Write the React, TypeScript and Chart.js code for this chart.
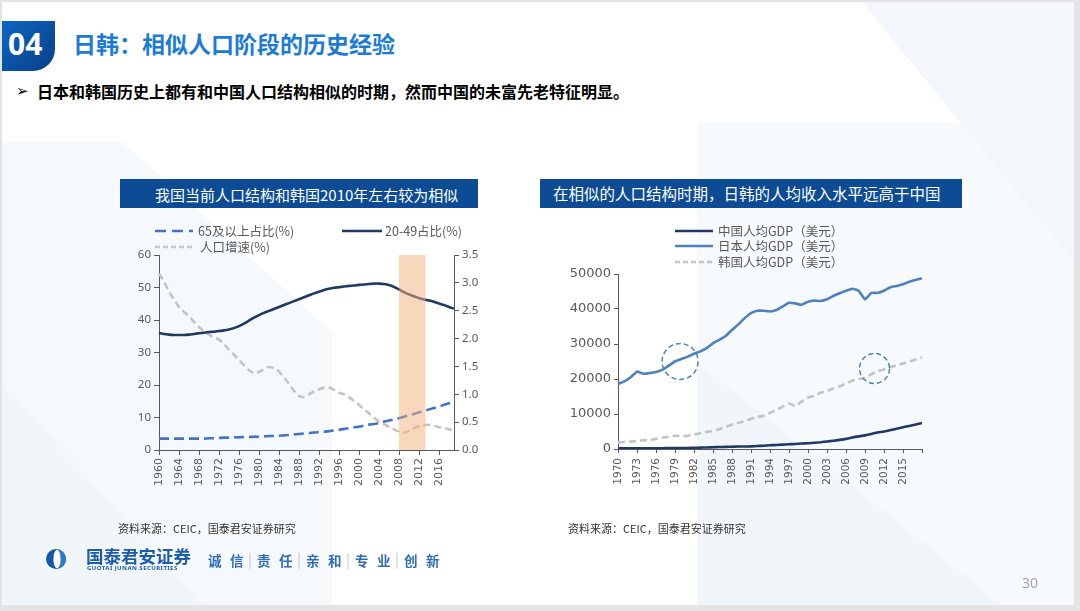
import React, { useEffect, useRef } from 'react';
import { Chart, registerables } from 'chart.js';
Chart.register(...registerables);

// ---------------- Left chart data (Korea population structure) ----------------
const popYears = [
  '1960','1961','1962','1963','1964','1965','1966','1967','1968','1969',
  '1970','1971','1972','1973','1974','1975','1976','1977','1978','1979',
  '1980','1981','1982','1983','1984','1985','1986','1987','1988','1989',
  '1990','1991','1992','1993','1994','1995','1996','1997','1998','1999',
  '2000','2001','2002','2003','2004','2005','2006','2007','2008','2009',
  '2010','2011','2012','2013','2014','2015','2016','2017','2018','2019',
];
const share2049 = [
  36.0,35.7,35.5,35.4,35.4,35.4,35.5,35.7,35.9,36.1,
  36.3,36.4,36.6,36.8,37.1,37.5,38.1,38.9,39.8,40.7,
  41.5,42.2,42.8,43.4,44.0,44.6,45.2,45.8,46.4,47.0,
  47.6,48.2,48.7,49.2,49.6,49.9,50.1,50.3,50.5,50.6,
  50.8,50.9,51.1,51.2,51.2,51.1,50.8,50.2,49.4,48.6,
  47.9,47.3,46.7,46.3,46.0,45.6,45.1,44.6,44.0,43.5,
];
const share65 = [
  3.5,3.5,3.5,3.5,3.5,3.5,3.5,3.5,3.5,3.5,
  3.6,3.6,3.7,3.8,3.8,3.9,3.9,4.0,4.0,4.1,
  4.1,4.2,4.3,4.3,4.4,4.5,4.6,4.8,4.9,5.1,
  5.2,5.4,5.5,5.6,5.8,6.0,6.2,6.5,6.7,7.0,
  7.2,7.5,7.8,8.0,8.3,8.7,9.1,9.4,9.8,10.2,
  10.7,11.1,11.6,12.0,12.5,12.9,13.4,13.9,14.4,14.8,
];
const popGrowth = [
  3.17,3.02,2.85,2.70,2.57,2.48,2.40,2.30,2.21,2.13,
  2.07,2.02,1.98,1.90,1.80,1.71,1.62,1.52,1.43,1.38,
  1.40,1.45,1.49,1.47,1.41,1.30,1.19,1.06,0.97,0.95,
  1.00,1.05,1.09,1.12,1.12,1.08,1.03,1.00,0.95,0.88,
  0.81,0.73,0.66,0.58,0.51,0.46,0.42,0.37,0.33,0.31,
  0.34,0.39,0.43,0.45,0.45,0.43,0.41,0.39,0.37,0.35,
];
const popLeftTicks = [0, 10, 20, 30, 40, 50, 60];
const popRightTicks = [0, 0.5, 1, 1.5, 2, 2.5, 3, 3.5];
const popLabelEvery = 4;
const bandRange = [2008, 2013.3];

// ---------------- Right chart data (GDP per capita) ----------------
const gdpYears = [
  '1970','1971','1972','1973','1974','1975','1976','1977','1978','1979',
  '1980','1981','1982','1983','1984','1985','1986','1987','1988','1989',
  '1990','1991','1992','1993','1994','1995','1996','1997','1998','1999',
  '2000','2001','2002','2003','2004','2005','2006','2007','2008','2009',
  '2010','2011','2012','2013','2014','2015','2016','2017','2018',
];
const chinaGdp = [
  200,200,200,200,200,200,200,200,300,300,
  300,300,350,400,450,500,550,600,650,700,
  700,750,850,950,1050,1150,1250,1350,1450,1550,
  1650,1800,1950,2150,2350,2600,2900,3300,3600,3900,
  4300,4700,5000,5400,5800,6200,6600,7000,7400,
];
const japanGdp = [
  18600,19300,20500,22100,21500,21700,22000,22600,23800,25000,
  25700,26400,27200,27900,28800,30200,31200,32300,34000,35600,
  37400,38800,39500,39500,39300,39700,40700,41800,41600,41200,
  42100,42400,42300,42800,43700,44500,45200,45800,45200,42800,
  44600,44600,45200,46200,46600,47100,47800,48300,48800,
];
const koreaGdp = [
  1900,2000,2100,2300,2500,2600,2900,3200,3500,3800,
  3600,3800,4100,4500,4900,5200,5700,6300,7000,7500,
  8000,8600,9100,9600,10300,11200,12100,13000,12300,13600,
  14700,15200,16100,16600,17300,17900,18700,19500,20000,20200,
  21400,22200,22700,23400,23900,24400,25000,25600,26200,
];
const gdpTicks = [0, 10000, 20000, 30000, 40000, 50000];
const gdpLabelEvery = 3;
const gdpLastLabelYear = 2015;
const circleYears = [1979.8, 2010.5];
const circleValues = [25000, 23000];

// ---------------- styles ----------------
const NAVY = '#1F3864';
const BLUE = '#4472C4';
const JP_BLUE = '#4F81BD';
const GRAY = '#C4C4C4';
const AXIS = '#595959';
const TICK_TXT = '#595959';
const CJK = '"Noto Sans CJK SC", "Noto Sans", sans-serif';
const circleRadii = [18, 15];

const bandPlugin = {
  id: 'band',
  afterDatasetsDraw(chart: any) {
    const x = chart.scales.x;
    const { top, bottom } = chart.chartArea;
    const first = Number(popYears[0]);
    const x1 = x.getPixelForValue(bandRange[0] - first);
    const x2 = x.getPixelForValue(bandRange[1] - first);
    const ctx = chart.ctx;
    ctx.save();
    ctx.fillStyle = 'rgba(244,176,124,0.5)';
    ctx.fillRect(x1, top, x2 - x1, bottom - top);
    ctx.restore();
  },
};

const circlePlugin = {
  id: 'circles',
  afterDatasetsDraw(chart: any) {
    const x = chart.scales.x;
    const y = chart.scales.y;
    const first = Number(gdpYears[0]);
    const ctx = chart.ctx;
    ctx.save();
    ctx.strokeStyle = '#4F81BD';
    ctx.lineWidth = 1.5;
    ctx.setLineDash([5, 3]);
    circleYears.forEach((yr, i) => {
      const cx = x.getPixelForValue(yr - first);
      const cy = y.getPixelForValue(circleValues[i]);
      ctx.beginPath();
      ctx.arc(cx, cy, circleRadii[i], 0, Math.PI * 2);
      ctx.stroke();
    });
    ctx.restore();
  },
};

function LeftChart() {
  const ref = useRef<HTMLCanvasElement>(null);
  useEffect(() => {
    const yFont = { family: '"Noto Sans", sans-serif', size: 11.5 };
    const xFont = { family: '"DejaVu Sans", sans-serif', size: 11 };
    const chart = new Chart(ref.current as HTMLCanvasElement, {
      type: 'line',
      data: {
        labels: popYears,
        datasets: [
          { label: '20-49占比(%)', data: share2049, borderColor: NAVY, borderWidth: 2.6, pointRadius: 0, tension: 0.3, yAxisID: 'y' },
          { label: '65及以上占比(%)', data: share65, borderColor: BLUE, borderWidth: 2.6, borderDash: [10, 5], pointRadius: 0, tension: 0.3, yAxisID: 'y' },
          { label: '人口增速(%)', data: popGrowth, borderColor: GRAY, borderWidth: 2.6, borderDash: [7, 4], pointRadius: 0, tension: 0.3, yAxisID: 'y1' },
        ],
      },
      options: {
        animation: false,
        responsive: false,
        maintainAspectRatio: false,
        layout: { autoPadding: false, padding: { top: 10, left: 0, right: 0, bottom: 0 } },
        plugins: { legend: { display: false }, tooltip: { enabled: false } },
        scales: {
          x: {
            type: 'category',
            offset: false,
            border: { display: true, color: AXIS, width: 1 },
            grid: { display: true, drawOnChartArea: false, drawTicks: true, tickLength: 5, tickColor: AXIS, color: AXIS, offset: false },
            ticks: {
              autoSkip: false, maxRotation: 90, minRotation: 90, padding: 3, color: TICK_TXT, font: xFont,
              callback: (_v: any, i: number) => (i % popLabelEvery === 0 ? popYears[i] : null),
            },
            afterFit: (s: any) => { s.height = 45; },
          },
          y: {
            position: 'left', min: popLeftTicks[0], max: popLeftTicks[popLeftTicks.length - 1],
            border: { display: true, color: AXIS, width: 1 },
            grid: { display: true, drawOnChartArea: false, drawTicks: true, tickLength: 5, tickColor: AXIS },
            afterBuildTicks: (s: any) => { s.ticks = popLeftTicks.map((v) => ({ value: v })); },
            ticks: { padding: 3, color: TICK_TXT, font: yFont, callback: (v: any) => String(v) },
            afterFit: (s: any) => { s.width = 49; },
          },
          y1: {
            position: 'right', min: popRightTicks[0], max: popRightTicks[popRightTicks.length - 1],
            border: { display: true, color: AXIS, width: 1 },
            grid: { display: true, drawOnChartArea: false, drawTicks: true, tickLength: 5, tickColor: AXIS },
            afterBuildTicks: (s: any) => { s.ticks = popRightTicks.map((v) => ({ value: v })); },
            ticks: { padding: 3, color: TICK_TXT, font: yFont, callback: (v: any) => Number(v).toFixed(1) },
            afterFit: (s: any) => { s.width = 36; },
          },
        },
      } as any,
      plugins: [bandPlugin],
    });
    return () => chart.destroy();
  }, []);
  return <canvas ref={ref} width={380} height={250} style={{ position: 'absolute', left: 110, top: 245, width: 380, height: 250 }} />;
}

function RightChart() {
  const ref = useRef<HTMLCanvasElement>(null);
  useEffect(() => {
    const chart = new Chart(ref.current as HTMLCanvasElement, {
      type: 'line',
      data: {
        labels: gdpYears,
        datasets: [
          { label: '中国人均GDP（美元）', data: chinaGdp, borderColor: NAVY, borderWidth: 2.6, pointRadius: 0, tension: 0.2 },
          { label: '日本人均GDP（美元）', data: japanGdp, borderColor: JP_BLUE, borderWidth: 2.6, pointRadius: 0, tension: 0.15 },
          { label: '韩国人均GDP（美元）', data: koreaGdp, borderColor: GRAY, borderWidth: 2.6, borderDash: [7, 4], pointRadius: 0, tension: 0.15 },
        ],
      },
      options: {
        animation: false,
        responsive: false,
        maintainAspectRatio: false,
        layout: { autoPadding: false, padding: { top: 12, left: 0, right: 18, bottom: 0 } },
        plugins: { legend: { display: false }, tooltip: { enabled: false } },
        scales: {
          x: {
            type: 'category',
            offset: false,
            border: { display: true, color: AXIS, width: 1 },
            grid: { display: true, drawOnChartArea: false, drawTicks: true, tickLength: 4, tickColor: AXIS, color: AXIS, offset: false },
            ticks: {
              autoSkip: false, maxRotation: 90, minRotation: 90, padding: 5, color: TICK_TXT,
              font: { family: '"DejaVu Sans", sans-serif', size: 10.5 },
              callback: (_v: any, i: number) =>
                i % gdpLabelEvery === 0 ? (Number(gdpYears[i]) <= gdpLastLabelYear ? gdpYears[i] : '') : null,
            },
            afterFit: (s: any) => { s.height = 53; },
          },
          y: {
            position: 'left', min: gdpTicks[0], max: gdpTicks[gdpTicks.length - 1],
            border: { display: true, color: AXIS, width: 1 },
            grid: { display: true, drawOnChartArea: false, drawTicks: true, tickLength: 4, tickColor: AXIS },
            afterBuildTicks: (s: any) => { s.ticks = gdpTicks.map((v) => ({ value: v })); },
            ticks: { padding: 3, color: TICK_TXT, font: { family: '"DejaVu Sans", sans-serif', size: 13 }, callback: (v: any) => String(v) },
            afterFit: (s: any) => { s.width = 58; },
          },
        },
      } as any,
      plugins: [circlePlugin],
    });
    return () => chart.destroy();
  }, []);
  return <canvas ref={ref} width={380} height={240} style={{ position: 'absolute', left: 560, top: 262, width: 380, height: 240 }} />;
}

function T(props: { x: number; y: number; size: number; color?: string; weight?: any; family?: string; children: any; ls?: number }) {
  return (
    <div
      style={{
        position: 'absolute', left: props.x, top: props.y, transform: 'translateY(-50%)',
        fontSize: props.size, lineHeight: 1, whiteSpace: 'nowrap', color: props.color || '#000',
        fontWeight: props.weight || 400, fontFamily: props.family || CJK, letterSpacing: props.ls || 0,
      }}
    >
      {props.children}
    </div>
  );
}

function Line(props: { x1: number; x2: number; y: number; color: string; dash?: string; w?: number }) {
  return (
    <line x1={props.x1} x2={props.x2} y1={props.y} y2={props.y} stroke={props.color} strokeWidth={props.w || 2.5} strokeDasharray={props.dash} />
  );
}

const slogan = [['诚', '信'], ['责', '任'], ['亲', '和'], ['专', '业'], ['创', '新']];

export default function App() {
  return (
    <div style={{ position: 'fixed', left: 0, top: 0, width: 1080, height: 611, overflow: 'hidden', background: '#E4E4E4', fontFamily: CJK }}>
      {/* slide */}
      <div style={{ position: 'absolute', left: 2, top: 2, width: 1072, height: 603, background: '#FFFFFF', overflow: 'hidden' }}>
        <svg width={1072} height={603} style={{ position: 'absolute', left: 0, top: 0 }}>
          <polygon points="0,140 120,140 330,330 330,603 0,603" fill="#F6F9FC" />
          <polygon points="0,380 200,603 0,603" fill="#F1F6FB" />
          <polygon points="695,120 1072,120 1072,603 695,603" fill="#F7FAFD" />
          <polygon points="695,360 1000,603 695,603" fill="#F1F6FB" />
          <polygon points="860,0 1072,0 1072,260" fill="#F3F7FC" />
        </svg>
      </div>

      {/* header */}
      <div style={{ position: 'absolute', left: 2, top: 21, width: 53, height: 50, background: 'linear-gradient(135deg, #0E68C4 0%, #0A4E9E 60%, #073F86 100%)', borderBottomRightRadius: 22 }} />
      <T x={8} y={44} size={30} color="#FFFFFF" weight={700} family='"Noto Sans", sans-serif'>04</T>
      <T x={73} y={43} size={23} color="#1C7CD5" weight={700}>日韩：相似人口阶段的历史经验</T>
      <T x={16} y={91} size={15} color="#000" family='"DejaVu Sans", sans-serif'>➢</T>
      <T x={37} y={91} size={16} color="#000" weight={700}>日本和韩国历史上都有和中国人口结构相似的时期，然而中国的未富先老特征明显。</T>

      {/* chart title bars */}
      <div style={{ position: 'absolute', left: 120, top: 179, width: 358, height: 29, background: '#0D4C94' }} />
      <T x={155} y={194} size={15} color="#FFFFFF">我国当前人口结构和韩国2010年左右较为相似</T>
      <div style={{ position: 'absolute', left: 540, top: 179, width: 422, height: 29, background: '#0D4C94' }} />
      <T x={553} y={194} size={15.5} color="#FFFFFF">在相似的人口结构时期，日韩的人均收入水平远高于中国</T>

      <LeftChart />
      <RightChart />

      {/* legends */}
      <svg width={1080} height={611} style={{ position: 'absolute', left: 0, top: 0, pointerEvents: 'none' }}>
        <Line x1={155} x2={193} y={231} color={BLUE} dash="11 6" />
        <Line x1={342} x2={382} y={231} color={NAVY} />
        <Line x1={155} x2={193} y={247} color={GRAY} dash="5 3" />
        <Line x1={675} x2={713} y={231} color={NAVY} />
        <Line x1={675} x2={713} y={246} color={JP_BLUE} />
        <Line x1={675} x2={713} y={262} color={GRAY} dash="5 3" />
        {/* logo */}
        <circle cx={56} cy={559} r={10} fill="#1558A8" />
        <path d="M 56 549 A 10 10 0 0 1 56 569 Z" fill="#2E7BC6" />
        <ellipse cx={57} cy={559} rx={3.6} ry={9.2} fill="#FFFFFF" />
        {[0, 1, 2, 3].map((i) => (
          <line key={i} x1={250 + i * 49} x2={250 + i * 49} y1={553} y2={569} stroke="#B8C7D9" strokeWidth={1} />
        ))}
      </svg>
      <T x={198} y={231} size={12.5} color="#595959">65及以上占比(%)</T>
      <T x={385} y={231} size={12.5} color="#595959">20-49占比(%)</T>
      <T x={200} y={247} size={12.5} color="#595959">人口增速(%)</T>
      <T x={718} y={231} size={12.5} color="#595959">中国人均GDP（美元）</T>
      <T x={718} y={246} size={12.5} color="#595959">日本人均GDP（美元）</T>
      <T x={718} y={262} size={12.5} color="#595959">韩国人均GDP（美元）</T>

      {/* sources */}
      <T x={118} y={528} size={11} color="#333333">资料来源：CEIC，国泰君安证券研究</T>
      <T x={568} y={528} size={11} color="#333333">资料来源：CEIC，国泰君安证券研究</T>

      {/* footer logo text */}
      <T x={86} y={556} size={17.5} color="#1B5DAA" weight={700}>国泰君安证券</T>
      <T x={87} y={568} size={6} color="#1B5DAA" weight={700} family='"Noto Sans", sans-serif' ls={0.45}>GUOTAI JUNAN SECURITIES</T>
      {slogan.map((pair, i) => (
        <React.Fragment key={i}>
          <T x={208 + i * 49} y={561} size={13.5} color="#2F6DB5" weight={700}>{pair[0]}</T>
          <T x={230 + i * 49} y={561} size={13.5} color="#2F6DB5" weight={700}>{pair[1]}</T>
        </React.Fragment>
      ))}

      <T x={1022} y={583} size={14} color="#A6A6A6" family='"Noto Sans", sans-serif'>30</T>
    </div>
  );
}
